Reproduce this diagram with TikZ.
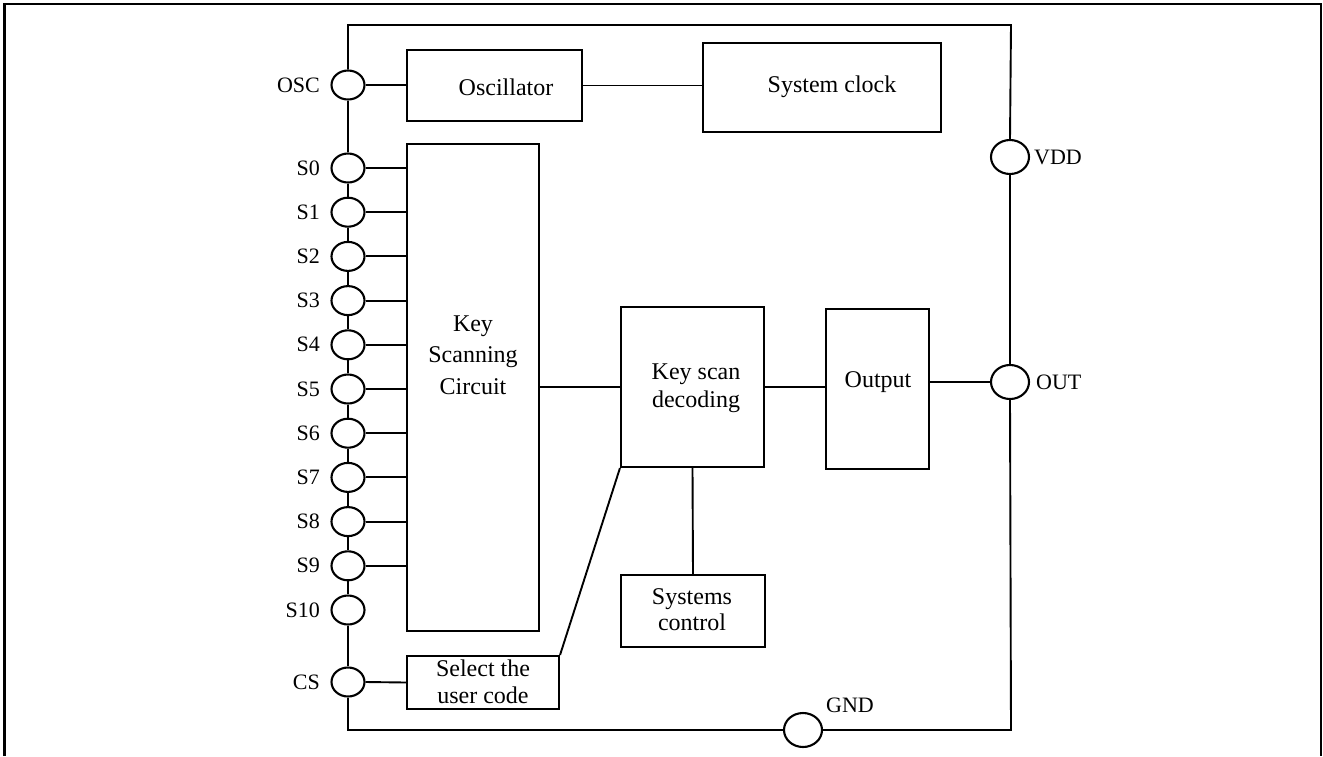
\documentclass[tikz,border=0pt]{standalone}
\usepackage{fontspec}
\setmainfont{Liberation Serif}
\usetikzlibrary{shapes.geometric}
\begin{document}
\begin{tikzpicture}[x=1pt,y=-1pt,
  wire/.style={line width=1.9pt},
  blk/.style={draw,line width=2.1pt,rectangle,inner sep=0pt},
  pinl/.style={draw,line width=2.1pt,ellipse,minimum width=33pt,minimum height=29pt,inner sep=0pt},
  pinr/.style={draw,line width=2.1pt,ellipse,minimum width=38pt,minimum height=34pt,inner sep=0pt},
  btxt/.style={align=center,font=\fontsize{24}{28}\selectfont,inner sep=0pt},
  plab/.style={font=\fontsize{22}{26}\selectfont,inner sep=0pt}]
\useasboundingbox (0,0) rectangle (1323,756);
\fill[white] (0,0) rectangle (1323,756);
% outer frame (open at bottom)
\draw[line width=2.8pt] (4.5,756) -- (4.5,4) -- (1321,4) -- (1321,756);

% left pins
\node[pinl] (OSC) at (348,85) {};
\foreach \i in {0,...,10} {
  \node[pinl] (S\i) at (348,{168+44.2*\i}) {};
  \node[plab,anchor=east] (LS\i) at (320,{168+44.2*\i}) {S\i};
}
\node[pinl] (CS) at (348,682) {};
\node[plab,anchor=east] (LOSC) at (320,85) {OSC};
\node[plab,anchor=east] (LCS) at (320,682) {CS};

% right / bottom pins
\node[pinr] (VDD) at (1010,157) {};
\node[pinr] (OUT) at (1010,382) {};
\node[pinr] (GND) at (803,730) {};
\node[plab,anchor=west] (LVDD) at (1034,157) {VDD};
\node[plab,anchor=west] (LOUT) at (1036,382) {OUT};
\node[plab] (LGND) at (850,705) {GND};

% blocks
\node[blk,minimum width=175pt,minimum height=71pt] (osc) at (494.5,85.5) {};
\node[blk,minimum width=238pt,minimum height=89pt] (clk) at (822,87.5) {};
\node[blk,minimum width=132pt,minimum height=487pt] (ksc) at (473,387.5) {};
\node[blk,minimum width=143pt,minimum height=160pt] (ksd) at (692.5,387) {};
\node[blk,minimum width=103pt,minimum height=160pt] (outb) at (877.5,389) {};
\node[blk,minimum width=144pt,minimum height=72pt] (sysc) at (693,611) {};
\node[blk,minimum width=152pt,minimum height=53pt] (sel) at (483,682.5) {};

% block texts
\node[btxt] (tosc) at (506,87) {Oscillator};
\node[btxt] (tclk) at (832,87) {System clock};
\node[btxt,font=\fontsize{24}{31.5}\selectfont] (tksc) at (473,355) {Key\\Scanning\\Circuit};
\node[btxt] (tksd) at (696,388) {Key scan\\decoding};
\node[btxt] (tout) at (878,382) {Output};
\node[btxt,font=\fontsize{24}{26}\selectfont] (tsys) at (692,610) {Systems\\control};
\node[btxt,font=\fontsize{24}{27}\selectfont] (tsel) at (483,682) {Select the\\user code};

% outer loop wiring
\draw[wire] (OSC.north) -- (348,25) -- (1011,25) -- (VDD.north);
\draw[wire] (VDD.south) -- (OUT.north);
\draw[wire] (OUT.south) -- (1011,730) -- (GND.east);
\draw[wire] (GND.west) -- (348,730) -- (CS.south);
\draw[wire] (CS.north) -- (S10.south);
\foreach \i [evaluate=\i as \j using int(\i+1)] in {0,...,9} {
  \draw[wire] (S\i.south) -- (S\j.north);
  \draw[wire] (S\i.east) -- (S\i.east -| ksc.west);
}
\draw[wire] (S0.north) -- (OSC.south);

% internal connections
\draw[wire] (OSC.east) -- (OSC.east -| osc.west);
\draw[wire] (osc.east) -- (osc.east -| clk.west);
\draw[wire] (ksc.east |- ksd.west) -- (ksd.west);
\draw[wire] (ksd.east) -- (ksd.east -| outb.west);
\draw[wire] (OUT.west -| outb.east) -- (OUT.west);
\draw[wire] (ksd.south) -- (sysc.north);
\draw[wire] (sel.north east) -- (ksd.south west);
\draw[wire] (CS.east) -- (sel.west);
\end{tikzpicture}
\end{document}
